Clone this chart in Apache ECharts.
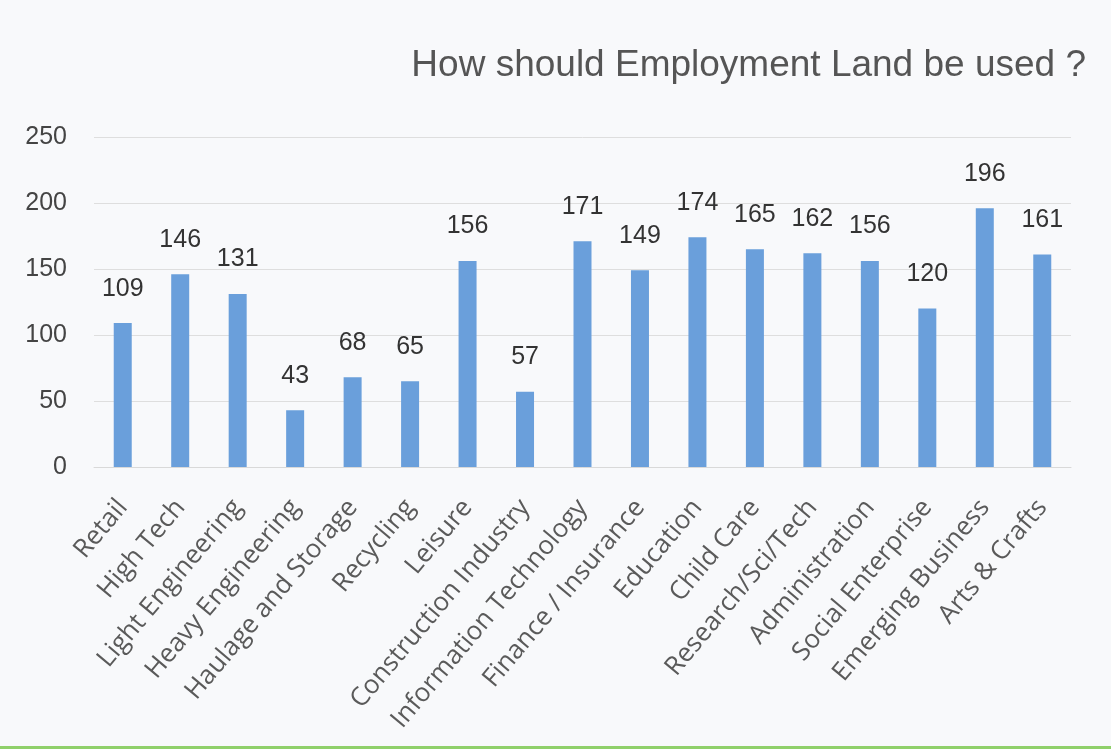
<!DOCTYPE html>
<html>
<head>
<meta charset="utf-8">
<script src="https://cdn.jsdelivr.net/npm/echarts@6/dist/echarts.min.js"></script>
<style>
html,body{margin:0;padding:0;background:#f8f9fb;}
#c{width:1111px;height:749px;}
</style>
</head>
<body>
<div id="c"></div>
<script>
const titleText = 'How should Employment Land be used ?';
const categories = ['Retail','High Tech','Light Engineering','Heavy Engineering','Haulage and Storage','Recycling','Leisure','Construction Industry','Information Technology','Finance / Insurance','Education','Child Care','Research/Sci/Tech','Administration','Social Enterprise','Emerging Business','Arts & Crafts'];
const values = [109,146,131,43,68,65,156,57,171,149,174,165,162,156,120,196,161];
const yTicks = [0,50,100,150,200,250];

const chart = echarts.init(document.getElementById('c'));
chart.setOption({
  backgroundColor: '#f8f9fb',
  animation: false,
  title: {
    text: titleText,
    right: 20,
    top: 42,
    textStyle: {fontFamily: 'Liberation Sans, Arial, sans-serif', fontSize: 37, fontWeight: 'normal', color: '#555'}
  },
  grid: {left: 94, right: 40, top: 137, bottom: 282, containLabel: false},
  xAxis: {
    type: 'category',
    data: categories,
    axisLine: {show: true, lineStyle: {color: '#d9d9d9'}},
    axisTick: {show: false},
    axisLabel: {
      rotate: 50, interval: 0, margin: 36,
      fontFamily: 'Open Sans, sans-serif', fontSize: 26, color: '#5a5a5a'
    }
  },
  yAxis: {
    type: 'value',
    min: yTicks[0], max: yTicks[yTicks.length-1], interval: 50,
    axisLine: {show: false}, axisTick: {show: false},
    splitLine: {lineStyle: {color: '#dedede'}},
    axisLabel: {
      margin: 27,
      fontFamily: 'Liberation Sans, Arial, sans-serif', fontSize: 25, color: '#444'
    }
  },
  series: [{
    type: 'bar',
    data: values,
    barWidth: 18,
    itemStyle: {color: '#6a9fdb'},
    label: {
      show: true, position: 'top', distance: 22,
      fontFamily: 'Liberation Sans, Arial, sans-serif', fontSize: 25, color: '#333'
    }
  }],
  graphic: [{
    type: 'rect', left: 0, bottom: 0,
    shape: {width: 1111, height: 3},
    style: {fill: '#8fd06a'}
  }]
});
</script>
</body>
</html>
